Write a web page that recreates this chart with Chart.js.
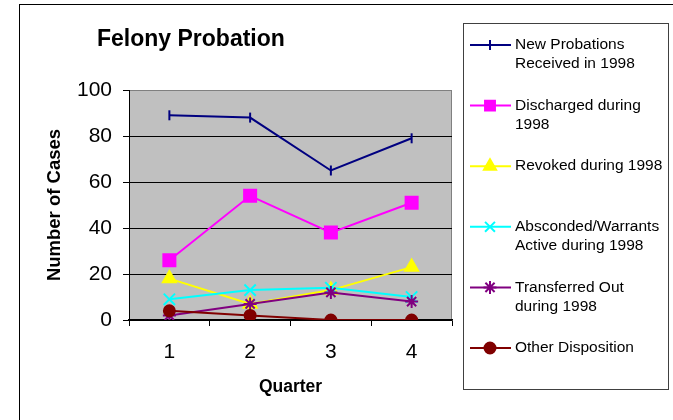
<!DOCTYPE html>
<html>
<head>
<meta charset="utf-8">
<script src="https://cdn.jsdelivr.net/npm/chart.js"></script>
<style>
  html, body { margin: 0; padding: 0; background: #fff; }
  #wrap { width: 673px; height: 420px; position: relative; }
</style>
</head>
<body>
<div id="wrap"><canvas id="canvas-grafico" width="673" height="420"></canvas></div>
<script>
// datos
const trimestres = ["1", "2", "3", "4"];
const nuevas = [89, 88, 65, 79];
const descargados = [26, 54, 38, 51];
const revocados = [18, 7, 13, 23];
const fugados = [9, 13, 14, 10];
const transferidos = [2, 7, 12, 8];
const otros = [4, 2, 0, 0];
const ticksY = [0, 20, 40, 60, 80, 100];

const nombres = [
    ["New Probations", "Received in 1998"],
    ["Discharged during", "1998"],
    ["Revoked during 1998"],
    ["Absconded/Warrants", "Active during 1998"],
    ["Transferred Out", "during 1998"],
    ["Other Disposition"]
];
const series = [nuevas, descargados, revocados, fugados, transferidos, otros];
const colores = ["#000080", "#FF00FF", "#FFFF00", "#00FFFF", "#800080", "#800000"];
const marcas = [
    {pointStyle: "line", rotation: 90, radius: 5},
    {pointStyle: "rect", rotation: 0, radius: 8.5},
    {pointStyle: "triangle", rotation: 0, radius: 7.5},
    {pointStyle: "crossRot", rotation: 0, radius: 8},
    {pointStyle: "star", rotation: 0, radius: 6.5},
    {pointStyle: "circle", rotation: 0, radius: 5.5}
];

const FUENTE = "'Liberation Sans', Arial, sans-serif";

const datasets = series.map((s, i) => ({
    label: nombres[i].join(" "),
    data: s,
    borderColor: colores[i],
    backgroundColor: colores[i],
    borderWidth: 2,
    tension: 0,
    fill: false,
    pointStyle: marcas[i].pointStyle,
    pointRotation: marcas[i].rotation,
    pointRadius: marcas[i].radius,
    pointHoverRadius: marcas[i].radius,
    pointBorderWidth: 2,
    order: series.length - i
}));

// fondo del area, marco, titulo y leyenda
const decorado = {
    id: "decorado",
    beforeDraw(chart) {
        const {ctx, chartArea: a} = chart;
        ctx.save();
        ctx.fillStyle = "#ffffff";
        ctx.fillRect(0, 0, chart.width, chart.height);
        ctx.strokeStyle = "#000000";
        ctx.lineWidth = 1;
        ctx.strokeRect(19.5, 4.5, 800, 600);
        ctx.fillStyle = "#C0C0C0";
        ctx.fillRect(a.left, a.top, a.right - a.left, a.bottom - a.top);
        ctx.strokeStyle = "#808080";
        ctx.beginPath();
        ctx.moveTo(a.left, a.top + 0.5);
        ctx.lineTo(a.right - 0.5, a.top + 0.5);
        ctx.lineTo(a.right - 0.5, a.bottom);
        ctx.stroke();
        ctx.restore();
    },
    afterDraw(chart) {
        const ctx = chart.ctx;
        ctx.save();
        ctx.fillStyle = "#000";
        ctx.font = "bold 23px " + FUENTE;
        ctx.textBaseline = "middle";
        ctx.textAlign = "left";
        ctx.fillText("Felony Probation", 97, 40);

        // leyenda
        ctx.strokeStyle = "#404040";
        ctx.lineWidth = 1;
        ctx.strokeRect(463.5, 23.5, 205, 366);
        ctx.font = "15.5px " + FUENTE;
        nombres.forEach((lineas, i) => {
            const y = 45 + i * 60.6;
            ctx.strokeStyle = colores[i];
            ctx.fillStyle = colores[i];
            ctx.lineWidth = 2;
            ctx.beginPath();
            ctx.moveTo(470, y);
            ctx.lineTo(511, y);
            ctx.stroke();
            Chart.helpers.drawPoint(ctx, {
                pointStyle: marcas[i].pointStyle,
                rotation: marcas[i].rotation,
                radius: Math.min(marcas[i].radius, 7),
                borderWidth: 2
            }, 490, y);
            ctx.fillStyle = "#000";
            lineas.forEach((t, j) => ctx.fillText(t, 515, y + j * 19));
        });
        ctx.restore();
    }
};

const ctx_g = document.getElementById("canvas-grafico");
const grafico = new Chart(ctx_g, {
    type: "line",
    data: { labels: trimestres, datasets: datasets },
    options: {
        responsive: false,
        animation: false,
        events: [],
        layout: { padding: { left: 0, top: 90, right: 221, bottom: 0 } },
        plugins: {
            legend: { display: false },
            title: { display: false },
            tooltip: { enabled: false }
        },
        scales: {
            x: {
                offset: true,
                afterFit(scale) { scale.height = 100; },
                grid: {
                    offset: true,
                    drawOnChartArea: false,
                    drawTicks: true,
                    tickLength: 6,
                    color: "#000",
                    lineWidth: 1
                },
                border: { color: "#000", width: 1.5 },
                ticks: {
                    color: "#000",
                    padding: 14,
                    font: { family: FUENTE, size: 21 }
                },
                title: {
                    display: true,
                    text: "Quarter",
                    color: "#000",
                    font: { family: FUENTE, size: 17.5, weight: "bold" },
                    padding: { top: 0, bottom: 22.5 }
                }
            },
            y: {
                min: 0,
                max: 100,
                afterFit(scale) { scale.width = 129; },
                afterBuildTicks(scale) { scale.ticks = ticksY.map(v => ({value: v})); },
                grid: {
                    color: (c) => (c.tick && c.tick.value === 100) ? "#808080" : "#000",
                    tickColor: "#000",
                    tickLength: 6,
                    lineWidth: 1
                },
                border: { color: "#000", width: 1 },
                ticks: {
                    color: "#000",
                    padding: 11,
                    font: { family: FUENTE, size: 21 }
                },
                title: {
                    display: true,
                    text: "Number of Cases",
                    color: "#000",
                    font: { family: FUENTE, size: 18.5, weight: "bold" },
                    padding: { top: 43.5, bottom: 0 }
                }
            }
        }
    },
    plugins: [decorado]
});
</script>
</body>
</html>
